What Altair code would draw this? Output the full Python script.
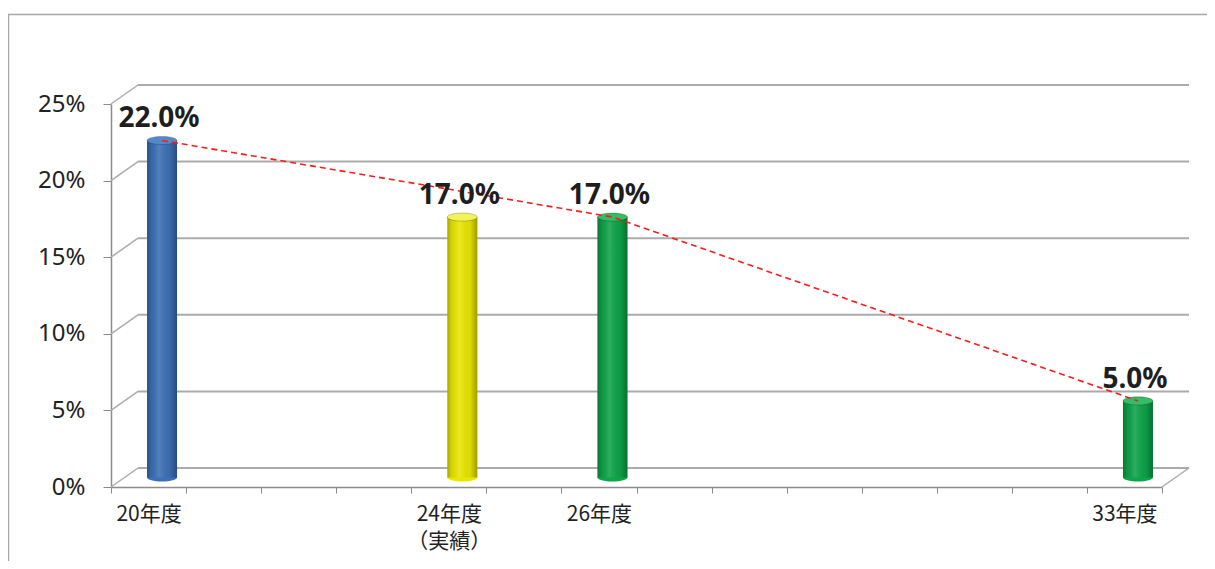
import altair as alt
import pandas as pd

# ---- data ----
fiscal_years = [20, 24, 26, 33]
axis_labels = ["20年度", "24年度|（実績）", "26年度", "33年度"]
values = [22.0, 17.0, 17.0, 5.0]
bar_colors = ["#3c70b6", "#e9e700", "#0ea449", "#0ea449"]
cap_colors = ["#5588c8", "#f4f25c", "#34bd66", "#34bd66"]
trend_years = [20, 26, 33]
trend_values = [22.0, 17.0, 5.0]
axis_years = list(range(20, 35))
y_ticks = [0, 5, 10, 15, 20, 25]

# ---- layout / 3D offsets ----
W, H = 1051, 383
DX, DY = 13.5, -9.5     # mid depth (bars)
BX, BY = 27, -19        # back wall
band_half = W / (len(axis_years) - 1) / 2

bars = pd.DataFrame({"year": fiscal_years, "value": values,
                     "color": bar_colors, "cap": cap_colors})
bars["center"] = bars["year"] + 0.5
bars["label"] = bars["value"].map(lambda v: f"{v:.1f}%")
bars["zero"] = 0.0

trend = pd.DataFrame({"year": trend_years, "value": trend_values})
trend["center"] = trend["year"] + 0.5

grid = pd.DataFrame({"v": y_ticks})
grid["x0"] = axis_years[0]
grid["x1"] = axis_years[-1]

diag = pd.DataFrame({"v": y_ticks + [0],
                     "x": [axis_years[0]] * len(y_ticks) + [axis_years[-1]]})

xs = alt.Scale(domain=[axis_years[0], axis_years[-1]], nice=False, zero=False, padding=0)
ys = alt.Scale(domain=[y_ticks[0], y_ticks[-1]], nice=False, padding=0)


def lab(s):
    if "|" in s:
        return "[" + ",".join(f"'{p}'" for p in s.split("|")) + "]"
    return f"'{s}'"


label_expr = " : ".join(f"datum.value == {y} ? {lab(l)}" for y, l in zip(fiscal_years, axis_labels)) + " : ''"

GRID = "#ababab"
AX = "#8c8c8c"

x_axis = alt.Axis(
    values=axis_years, labelExpr=label_expr, labelOffset=band_half,
    labelFlush=False, labelOverlap=False, labelBound=False,
    tickSize=6, tickColor=AX, domainColor=AX, domainWidth=1.5,
    labelFont="Noto Sans CJK JP", labelFontSize=21, labelColor="#222222",
    labelPadding=10, labelLineHeight=27, grid=False, title=None,
)
y_axis = alt.Axis(
    values=y_ticks, labelExpr="datum.value + '%'", tickSize=8,
    tickColor=AX, domainColor=AX, domainWidth=1.5,
    labelFont="Noto Sans", labelFontSize=24, labelColor="#222222",
    labelPadding=18, grid=False, title=None,
)

frame = alt.Chart(alt.Data(values=[{}])).mark_rect(
    filled=False, color="#a8a8a8", strokeWidth=1.5
).encode(
    x=alt.value(-102.5), x2=alt.value(1300), y=alt.value(-89.5), y2=alt.value(700)
)

back = alt.Chart(grid).mark_rule(
    color=GRID, strokeWidth=2, xOffset=BX, x2Offset=BX, yOffset=BY
).encode(
    x=alt.X("x0:Q", scale=xs, axis=x_axis),
    x2="x1:Q",
    y=alt.Y("v:Q", scale=ys, axis=y_axis),
)

diagonals = alt.Chart(diag).mark_rule(
    color=GRID, strokeWidth=1.5, x2Offset=BX, y2Offset=BY
).encode(
    x=alt.X("x:Q", scale=xs, axis=x_axis),
    x2="x:Q",
    y=alt.Y("v:Q", scale=ys, axis=y_axis),
    y2="v:Q",
)

ellipse = "M-1,0A1,0.27,0,1,1,1,0A1,0.27,0,1,1,-1,0Z"

bottom_caps = alt.Chart(bars).mark_point(
    shape=ellipse, filled=True, size=900, opacity=1, xOffset=DX, yOffset=DY
).encode(
    x=alt.X("center:Q", scale=xs, axis=x_axis),
    y=alt.Y("zero:Q", scale=ys, axis=y_axis),
    color=alt.Color("color:N", scale=None),
)

bar_layer = alt.Chart(bars).mark_bar(
    width=30, orient="vertical", xOffset=DX, yOffset=DY, y2Offset=DY
).encode(
    x=alt.X("center:Q", scale=xs, axis=x_axis),
    y=alt.Y("value:Q", scale=ys, axis=y_axis),
    y2="zero:Q",
    color=alt.Color("color:N", scale=None),
)

shade = alt.Chart(bars).mark_bar(
    width=30, orient="vertical", xOffset=DX, yOffset=DY, y2Offset=DY,
    color=alt.LinearGradient(
        gradient="linear", x1=0, x2=1, y1=0, y2=0,
        stops=[
            alt.GradientStop(offset=0, color="rgba(0,0,0,0.28)"),
            alt.GradientStop(offset=0.15, color="rgba(0,0,0,0.08)"),
            alt.GradientStop(offset=0.4, color="rgba(255,255,255,0.12)"),
            alt.GradientStop(offset=0.75, color="rgba(0,0,0,0.05)"),
            alt.GradientStop(offset=1, color="rgba(0,0,0,0.32)"),
        ],
    ),
).encode(
    x=alt.X("center:Q", scale=xs, axis=x_axis),
    y=alt.Y("value:Q", scale=ys, axis=y_axis),
    y2="zero:Q",
)

top_caps = alt.Chart(bars).mark_point(
    shape=ellipse, filled=True, size=900, opacity=1, xOffset=DX, yOffset=DY,
    stroke="rgba(0,0,0,0.25)", strokeWidth=0.8
).encode(
    x=alt.X("center:Q", scale=xs, axis=x_axis),
    y=alt.Y("value:Q", scale=ys, axis=y_axis),
    fill=alt.Fill("cap:N", scale=None),
)

trend_line = alt.Chart(trend).mark_line(
    color="#ff1a1a", strokeWidth=1.6, strokeDash=[6, 4], xOffset=DX, yOffset=DY
).encode(
    x=alt.X("center:Q", scale=xs, axis=x_axis),
    y=alt.Y("value:Q", scale=ys, axis=y_axis),
)

labels = alt.Chart(bars).mark_text(
    font="Noto Sans", fontSize=28, fontWeight="bold", color="#1e1e1e",
    baseline="alphabetic", align="center", xOffset=DX - 3, yOffset=DY, dy=-13
).encode(
    x=alt.X("center:Q", scale=xs, axis=x_axis),
    y=alt.Y("value:Q", scale=ys, axis=y_axis),
    text="label:N",
)

chart = alt.layer(
    frame, back, diagonals, bottom_caps, bar_layer, shade, top_caps, trend_line, labels
).properties(
    width=W, height=H,
    background="white",
    padding={"left": 103, "top": 96, "right": 45, "bottom": 74},
    autosize=alt.AutoSizeParams(type="none"),
).configure_view(stroke="transparent", strokeWidth=0)

chart.save("out.html", embed_options={"renderer": "svg", "actions": False})
